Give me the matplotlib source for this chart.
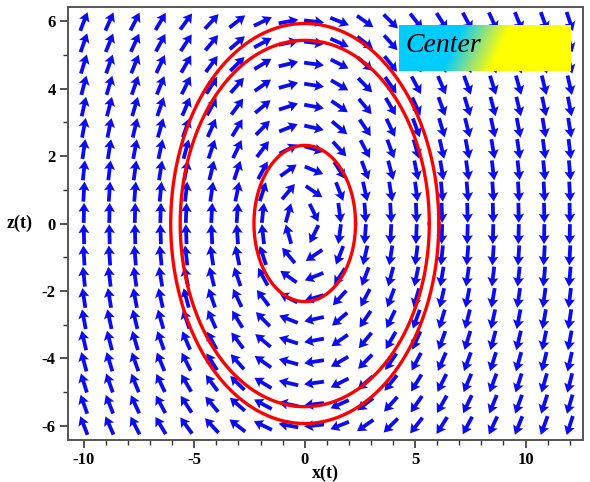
import matplotlib

matplotlib.use("Agg")
import matplotlib.pyplot as plt
import numpy as np
from matplotlib.colors import LinearSegmentedColormap
from matplotlib.ticker import MultipleLocator

plt.rcParams["axes.unicode_minus"] = False

# phase plane of x' = z, z' = -x on a 20 x 20 grid
x_grid = np.linspace(-10, 12, 20)
z_grid = np.linspace(-6, 6, 20)

# closed orbits around the centre: semi-axes along x and z
orbit_ax = [2.30, 5.64, 6.07]
orbit_bz = [2.32, 5.44, 5.94]

x_ticks = [-10, -5, 0, 5, 10]
z_ticks = [-6, -4, -2, 0, 2, 4, 6]
xlim = (-10.72, 12.6)
zlim = (-6.43, 6.43)

W, H, DPI = 590, 482, 100
fig = plt.figure(figsize=(W / DPI, H / DPI), dpi=DPI)
L, R, B, T = 68, 583, 440, 7
ax = fig.add_axes([L / W, 1 - B / H, (R - L) / W, (B - T) / H])
ax.set_xlim(*xlim)
ax.set_ylim(*zlim)

# arrows all the same on-screen length
X, Z = np.meshgrid(x_grid, z_grid)
U, V = Z, -X
sx = (R - L) / (xlim[1] - xlim[0])
sz = (B - T) / (zlim[1] - zlim[0])
pu, pv = U * sx, V * sz
n = np.hypot(pu, pv)
alen = 20.0
ax.quiver(X, Z, pu / n * alen, pv / n * alen, angles="uv", scale_units="dots",
          scale=1, units="dots", width=3.8, headwidth=2.9, headlength=2.4,
          headaxislength=2.1, pivot="middle", color="#0c0cf2", zorder=2)

t = np.linspace(0, 2 * np.pi, 400)
for a, b in zip(orbit_ax, orbit_bz):
    ax.plot(a * np.cos(t), b * np.sin(t), color="#ff0000", lw=2.4, zorder=3)

ax.set_xticks(x_ticks)
ax.set_yticks(z_ticks)
ax.xaxis.set_minor_locator(MultipleLocator(1))
ax.yaxis.set_minor_locator(MultipleLocator(1))
ax.tick_params(which="major", direction="out", length=6, width=1.2, color="#333333", pad=3)
ax.tick_params(which="minor", direction="out", length=3.5, width=1.0, color="#333333")
for lab in ax.get_xticklabels() + ax.get_yticklabels():
    lab.set_fontfamily("Liberation Serif")
    lab.set_fontweight("bold")
    lab.set_fontsize(12)
for sp in ax.spines.values():
    sp.set_color("#555555")
    sp.set_linewidth(1.4)

ax.set_xlabel("x(t)", fontfamily="Liberation Serif", fontweight="bold", fontsize=13, labelpad=-3)
ax.set_ylabel("z(t)", fontfamily="Liberation Serif", fontweight="bold", fontsize=13,
              rotation=0, labelpad=16, va="center")

# gradient label box, cyan to yellow with a slanted blend
bx0, bx1, by0, by1 = 399, 571, 25, 71
lax = fig.add_axes([bx0 / W, 1 - by1 / H, (bx1 - bx0) / W, (by1 - by0) / H])
gu, gv = np.meshgrid(np.linspace(0, 1, 200), np.linspace(0, 1, 60))
g = gu + 0.12 * gv
cmap = LinearSegmentedColormap.from_list(
    "cy", [(0.0, "#00ccff"), (0.33, "#00ccff"), (0.46, "#90e080"), (0.58, "#ffff00"), (1.0, "#ffff00")])
lax.imshow(g, cmap=cmap, aspect="auto", origin="upper", extent=(0, 1, 0, 1), vmin=0, vmax=1.12)
lax.set_axis_off()
lax.text(0.035, 0.55, "Center", fontfamily="Liberation Serif", fontstyle="italic",
         fontsize=20, color="black", ha="left", va="center", transform=lax.transAxes)

fig.savefig("out.png", dpi=DPI, facecolor="white")
